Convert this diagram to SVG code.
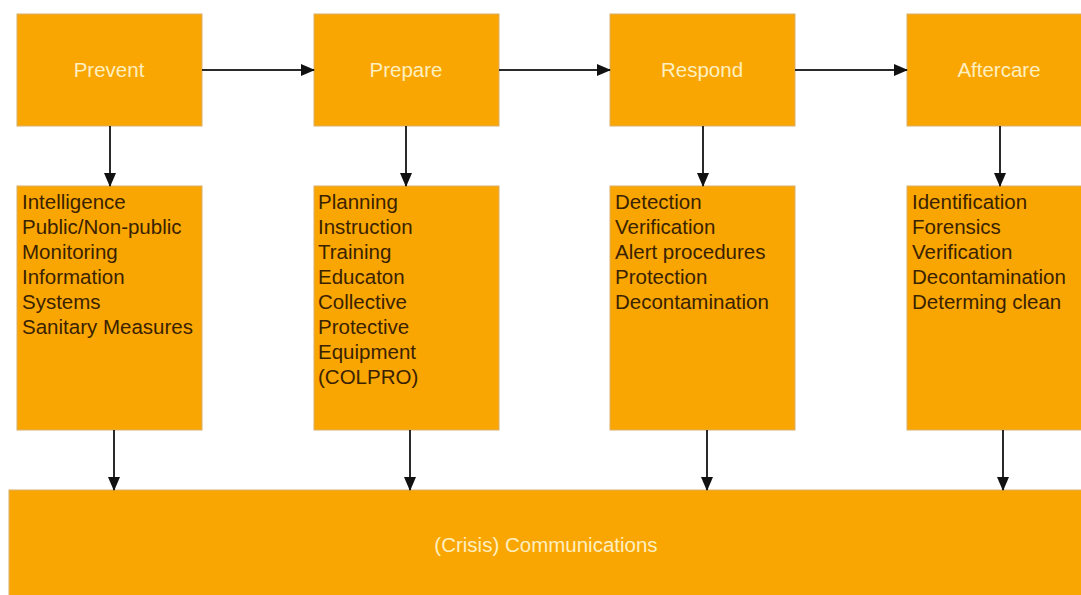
<svg xmlns="http://www.w3.org/2000/svg" width="1081" height="595" viewBox="0 0 1081 595">
<style>
.box{fill:#F9A602;stroke:#D9AE6A;stroke-width:1}
.hd{font-family:"Liberation Sans",Arial,sans-serif;font-size:20.5px;fill:#FFEFC0;text-anchor:middle}
.tx{font-family:"Liberation Sans",Arial,sans-serif;font-size:20.5px;fill:#3A2200}
.ln{stroke:#2A2A2A;stroke-width:2;fill:none;marker-end:url(#ah)}
</style>
<defs>
<marker id="ah" markerWidth="14" markerHeight="14" refX="13" refY="7" orient="auto" markerUnits="userSpaceOnUse" viewBox="0 0 14 14">
<path d="M0,1 L14,7 L0,13 z" fill="#111"/>
</marker>
</defs>
<rect width="1081" height="595" fill="#fff"/>
<g id="prevent"><rect class="box" x="17" y="14" width="185" height="112"/><text class="hd" x="109" y="77">Prevent</text></g>
<g id="prepare"><rect class="box" x="314" y="14" width="185" height="112"/><text class="hd" x="406" y="77">Prepare</text></g>
<g id="respond"><rect class="box" x="610" y="14" width="185" height="112"/><text class="hd" x="702" y="77">Respond</text></g>
<g id="aftercare"><rect class="box" x="907" y="14" width="185" height="112"/><text class="hd" x="999" y="77">Aftercare</text></g>
<g id="prevent-detail"><rect class="box" x="17" y="186" width="185" height="244"/>
<text class="tx" x="22" y="209">Intelligence</text><text class="tx" x="22" y="234">Public/Non-public</text><text class="tx" x="22" y="259">Monitoring</text><text class="tx" x="22" y="284">Information</text><text class="tx" x="22" y="309">Systems</text><text class="tx" x="22" y="334">Sanitary Measures</text></g>
<g id="prepare-detail"><rect class="box" x="314" y="186" width="185" height="244"/>
<text class="tx" x="318" y="209">Planning</text><text class="tx" x="318" y="234">Instruction</text><text class="tx" x="318" y="259">Training</text><text class="tx" x="318" y="284">Educaton</text><text class="tx" x="318" y="309">Collective</text><text class="tx" x="318" y="334">Protective</text><text class="tx" x="318" y="359">Equipment</text><text class="tx" x="318" y="384">(COLPRO)</text></g>
<g id="respond-detail"><rect class="box" x="610" y="186" width="185" height="244"/>
<text class="tx" x="615" y="209">Detection</text><text class="tx" x="615" y="234">Verification</text><text class="tx" x="615" y="259">Alert procedures</text><text class="tx" x="615" y="284">Protection</text><text class="tx" x="615" y="309">Decontamination</text></g>
<g id="aftercare-detail"><rect class="box" x="907" y="186" width="185" height="244"/>
<text class="tx" x="912" y="209">Identification</text><text class="tx" x="912" y="234">Forensics</text><text class="tx" x="912" y="259">Verification</text><text class="tx" x="912" y="284">Decontamination</text><text class="tx" x="912" y="309">Determing clean</text></g>
<g id="communications"><rect class="box" x="9" y="490" width="1090" height="120"/><text class="hd" x="546" y="552">(Crisis) Communications</text></g>
<g id="connectors">
<line class="ln" x1="202" y1="70" x2="314" y2="70"/>
<line class="ln" x1="499" y1="70" x2="610" y2="70"/>
<line class="ln" x1="795" y1="70" x2="907" y2="70"/>
<line class="ln" x1="110" y1="126" x2="110" y2="186"/>
<line class="ln" x1="406" y1="126" x2="406" y2="186"/>
<line class="ln" x1="703" y1="126" x2="703" y2="186"/>
<line class="ln" x1="1000" y1="126" x2="1000" y2="186"/>
<line class="ln" x1="114" y1="430" x2="114" y2="490"/>
<line class="ln" x1="410" y1="430" x2="410" y2="490"/>
<line class="ln" x1="707" y1="430" x2="707" y2="490"/>
<line class="ln" x1="1003" y1="430" x2="1003" y2="490"/>
</g>
</svg>
